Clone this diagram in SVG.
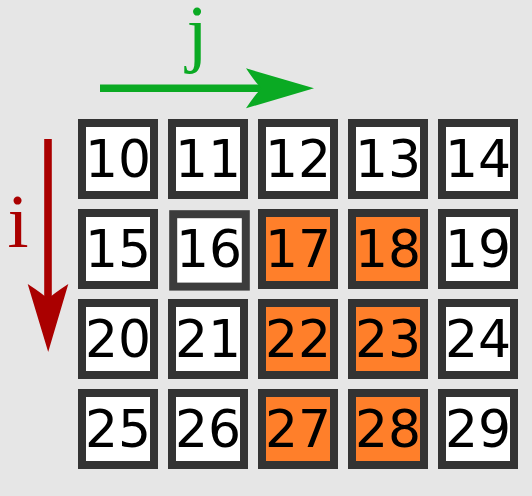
<svg xmlns="http://www.w3.org/2000/svg" width="532" height="496" viewBox="0 0 532 496">
<style>
.cell{stroke:#333333;stroke-width:8;}
.w{fill:#ffffff;}
.o{fill:#ff7f2a;}
.num{font-family:"DejaVu Sans",sans-serif;font-size:52px;fill:#000000;text-anchor:middle;}
.lbl{font-family:"Liberation Serif","Times New Roman",serif;font-size:76px;text-anchor:middle;}
</style>
<rect width="532" height="496" fill="#e6e6e6"/>
<g id="axes">
<g id="axis-j">
<line x1="100" y1="88.3" x2="266" y2="88.3" stroke="#0aaa23" stroke-width="7.6"/>
<path d="M246,68.3 L314,88.3 L246,108.3 Q256,93 262,88.3 Q256,83.6 246,68.3 Z" fill="#0aaa23"/>
<text class="lbl" x="197" y="57.5" fill="#0aaa23">j</text>
</g>
<g id="axis-i">
<line x1="48" y1="139" x2="48" y2="302" stroke="#aa0000" stroke-width="7.6"/>
<path d="M27.7,284 L48.2,352 L68.3,284 Q53,294 48,299 Q43,294 27.7,284 Z" fill="#aa0000"/>
<text class="lbl" x="18" y="247" fill="#aa0000">i</text>
</g>
</g>
<g id="n10"><rect class="cell w" x="82" y="123" width="72" height="72"/><text class="num" x="118" y="176.7">10</text></g>
<g id="n11"><rect class="cell w" x="172" y="123" width="72" height="72"/><text class="num" x="208" y="176.7">11</text></g>
<g id="n12"><rect class="cell w" x="262" y="123" width="72" height="72"/><text class="num" x="298" y="176.7">12</text></g>
<g id="n13"><rect class="cell w" x="352" y="123" width="72" height="72"/><text class="num" x="388" y="176.7">13</text></g>
<g id="n14"><rect class="cell w" x="442" y="123" width="72" height="72"/><text class="num" x="478" y="176.7">14</text></g>
<g id="n15"><rect class="cell w" x="82" y="213" width="72" height="72"/><text class="num" x="118" y="266.7">15</text></g>
<g id="n16"><rect class="cell w" x="173.2" y="214.2" width="72.6" height="72.4" style="stroke:#3c3c3c"/><text class="num" x="209" y="266.7">16</text></g>
<g id="n17"><rect class="cell o" x="262" y="213" width="72" height="72"/><text class="num" x="298" y="266.7">17</text></g>
<g id="n18"><rect class="cell o" x="352" y="213" width="72" height="72"/><text class="num" x="388" y="266.7">18</text></g>
<g id="n19"><rect class="cell w" x="442" y="213" width="72" height="72"/><text class="num" x="478" y="266.7">19</text></g>
<g id="n20"><rect class="cell w" x="82" y="303" width="72" height="72"/><text class="num" x="118" y="356.7">20</text></g>
<g id="n21"><rect class="cell w" x="172" y="303" width="72" height="72"/><text class="num" x="208" y="356.7">21</text></g>
<g id="n22"><rect class="cell o" x="262" y="303" width="72" height="72"/><text class="num" x="298" y="356.7">22</text></g>
<g id="n23"><rect class="cell o" x="352" y="303" width="72" height="72"/><text class="num" x="388" y="356.7">23</text></g>
<g id="n24"><rect class="cell w" x="442" y="303" width="72" height="72"/><text class="num" x="478" y="356.7">24</text></g>
<g id="n25"><rect class="cell w" x="82" y="393" width="72" height="72"/><text class="num" x="118" y="446.7">25</text></g>
<g id="n26"><rect class="cell w" x="172" y="393" width="72" height="72"/><text class="num" x="208" y="446.7">26</text></g>
<g id="n27"><rect class="cell o" x="262" y="393" width="72" height="72"/><text class="num" x="298" y="446.7">27</text></g>
<g id="n28"><rect class="cell o" x="352" y="393" width="72" height="72"/><text class="num" x="388" y="446.7">28</text></g>
<g id="n29"><rect class="cell w" x="442" y="393" width="72" height="72"/><text class="num" x="478" y="446.7">29</text></g>
</svg>
